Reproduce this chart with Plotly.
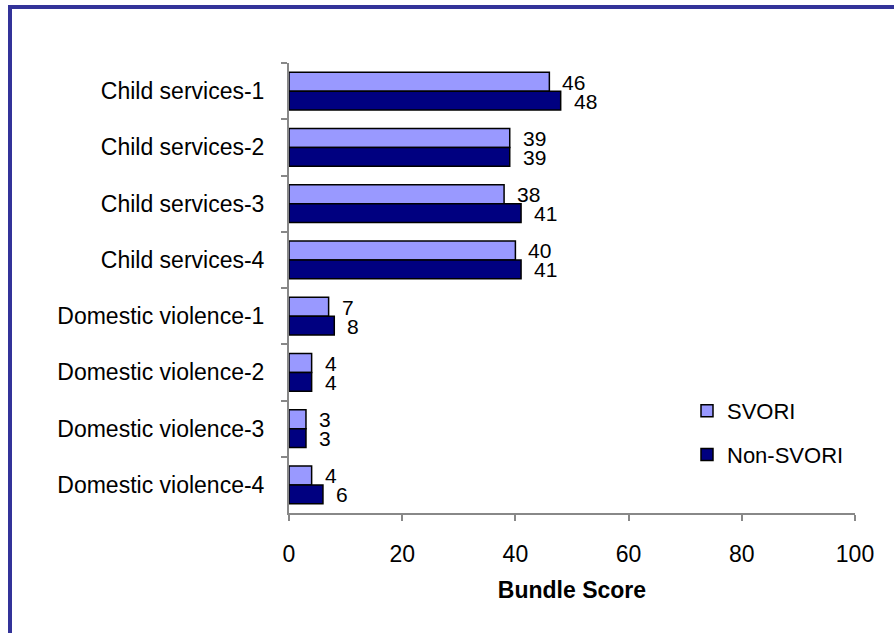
import plotly.graph_objects as go

categories = ["Child services-1", "Child services-2", "Child services-3", "Child services-4",
              "Domestic violence-1", "Domestic violence-2", "Domestic violence-3", "Domestic violence-4"]
svori = [46, 39, 38, 40, 7, 4, 3, 4]
non_svori = [48, 39, 41, 41, 8, 4, 3, 6]
x_ticks = [0, 20, 40, 60, 80, 100]

W, H = 894, 633
L, R, T, B = 289, 39, 63, 120
pw, ph = W - L - R, H - T - B
FONT = "Liberation Sans, Arial, sans-serif"
FS = 23
VFS = 21

fig = go.Figure()
fig.add_trace(go.Bar(y=categories, x=svori, orientation="h", name="SVORI",
                     marker=dict(color="#9999FF", line=dict(color="black", width=1.5)),
                     legendgroup="a"))
fig.add_trace(go.Bar(y=categories, x=non_svori, orientation="h", name="Non-SVORI",
                     marker=dict(color="#000080", line=dict(color="black", width=1.5)),
                     legendgroup="b"))

annotations = []
for cat, v in zip(categories, svori):
    annotations.append(dict(x=v, y=cat, xref="x", yref="y", text=str(v), showarrow=False,
                            xanchor="left", yanchor="middle", xshift=11, yshift=9,
                            font=dict(size=VFS, color="black", family=FONT)))
for cat, v in zip(categories, non_svori):
    annotations.append(dict(x=v, y=cat, xref="x", yref="y", text=str(v), showarrow=False,
                            xanchor="left", yanchor="middle", xshift=11, yshift=-10,
                            font=dict(size=VFS, color="black", family=FONT)))

fig.update_layout(
    width=W, height=H,
    margin=dict(l=L, r=R, t=T, b=B, autoexpand=False),
    paper_bgcolor="white", plot_bgcolor="white",
    font=dict(family=FONT, size=FS, color="black"),
    barmode="group", bargap=0.325, bargroupgap=0,
    showlegend=True,
    legend=dict(x=(687 - L) / pw, y=1 - (390 - T) / ph, xanchor="left", yanchor="top",
                traceorder="grouped", tracegroupgap=12, bgcolor="rgba(0,0,0,0)",
                font=dict(size=22), itemwidth=30),
    xaxis=dict(range=[0, 100], tickvals=x_ticks, showgrid=False, zeroline=False,
               showline=True, linecolor="#888888", linewidth=2,
               ticks="outside", ticklen=6, tickcolor="#888888", tickwidth=2,
               ticklabelstandoff=13, tickfont=dict(size=FS),
               title=dict(text="<b>Bundle Score</b>", font=dict(size=FS), standoff=16)),
    yaxis=dict(categoryorder="array", categoryarray=categories, autorange="reversed",
               showgrid=False, zeroline=False, showline=True, linecolor="#888888", linewidth=2,
               ticks="outside", ticklen=6, tickcolor="#888888", tickwidth=2,
               tickson="boundaries", ticklabelstandoff=18, tickfont=dict(size=FS)),
    annotations=annotations,
    shapes=[
        dict(type="line", xref="paper", yref="paper",
             x0=(8 - L) / pw, x1=(W + 5 - L) / pw,
             y0=1 + (T - 7) / ph, y1=1 + (T - 7) / ph,
             line=dict(color="#333399", width=4)),
        dict(type="line", xref="paper", yref="paper",
             x0=(10 - L) / pw, x1=(10 - L) / pw,
             y0=1 + (T - 5) / ph, y1=-(B + 5) / ph,
             line=dict(color="#333399", width=4)),
    ],
)

fig.write_html("out.html", config={"displayModeBar": False},
               post_script="document.body.style.margin='0';document.body.style.overflow='hidden';")
